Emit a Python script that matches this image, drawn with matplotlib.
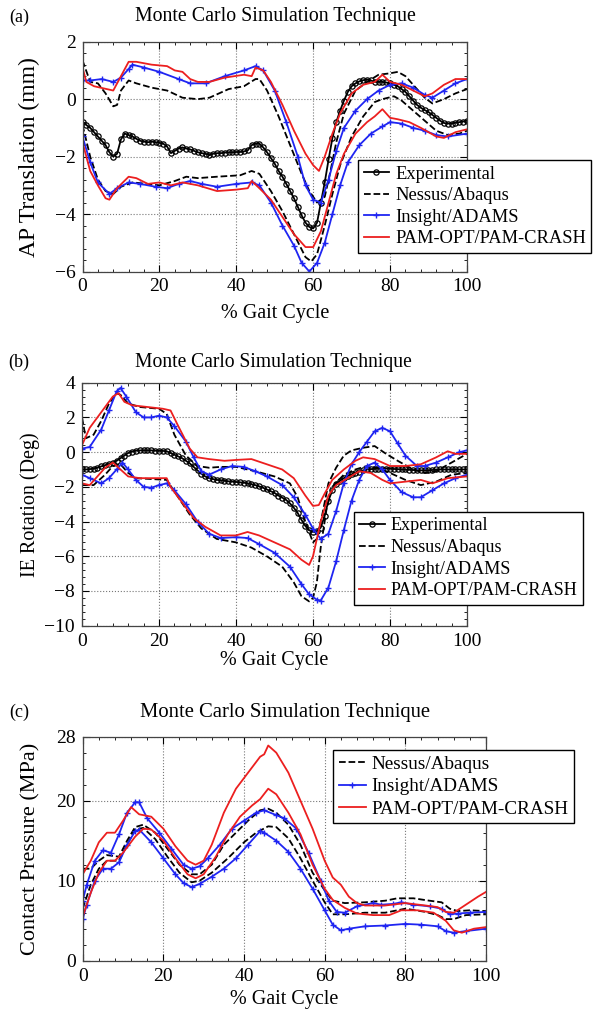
import numpy as np
import matplotlib.pyplot as plt
from matplotlib.ticker import AutoMinorLocator

plt.rcParams['font.family'] = ['Liberation Serif', 'DejaVu Serif']

# colours
c_exp = 'black'
c_nessus = 'black'
c_insight = '#1f25f2'
c_pam = '#ec1f1f'

names = ['Experimental', 'Nessus/Abaqus', 'Insight/ADAMS', 'PAM-OPT/PAM-CRASH']
title = 'Monte Carlo Simulation Technique'
xlabel = '% Gait Cycle'
gait = list(range(0, 101))   # experimental data is sampled every 1 % of the cycle

# ---------------- (a) AP translation ----------------
a_exp = [-0.78, -0.9, -1.0, -1.15, -1.3, -1.45, -1.6, -1.85, -2.0, -1.9,
         -1.4, -1.2, -1.25, -1.3, -1.38, -1.45, -1.48, -1.5, -1.48, -1.5,
         -1.52, -1.55, -1.65, -1.88, -1.8, -1.72, -1.68, -1.72, -1.75, -1.8,
         -1.85, -1.88, -1.9, -1.95, -1.9, -1.88, -1.88, -1.86, -1.85, -1.85,
         -1.84, -1.84, -1.82, -1.78, -1.6, -1.55, -1.55, -1.68, -1.85, -2.05,
         -2.25, -2.5, -2.7, -2.95, -3.2, -3.45, -3.75, -4.05, -4.3, -4.45,
         -4.5, -4.3, -3.6, -2.9, -2.1, -1.35, -0.8, -0.4, -0.05, 0.25,
         0.45, 0.55, 0.62, 0.66, 0.68, 0.65, 0.6, 0.6, 0.6, 0.58,
         0.55, 0.5, 0.45, 0.35, 0.25, 0.1, -0.05, -0.2, -0.3, -0.38,
         -0.45, -0.55, -0.65, -0.75, -0.83, -0.85, -0.85, -0.82, -0.8, -0.78,
         -0.75]

a_nes_up_x = [0, 2, 4, 6, 8, 9, 10, 12, 14, 18, 22, 26, 30, 33, 38, 42, 45, 46, 48, 51, 54, 57, 59,
              61, 63, 64.5, 66, 68, 71, 74, 77, 80, 82, 84, 86, 89, 91, 94, 97, 100]
a_nes_up = [1.35, 0.6, 0.55, 0.2, -0.25, -0.2, 0.3, 0.65, 0.55, 0.4, 0.3, 0.05, 0.0, 0.05, 0.35,
            0.45, 0.7, 0.7, 0.3, -0.6, -1.6, -2.6, -3.2, -3.6, -3.4, -2.5, -1.5, -0.5, 0.3, 0.6,
            0.85, 0.9, 0.95, 0.8, 0.5, 0.05, -0.15, 0.0, 0.2, 0.35]
a_nes_lo_x = [0, 2, 4, 6, 8, 10, 13, 17, 20, 24, 27, 30, 35, 41, 44, 46, 49, 52, 55, 58, 59.5, 61,
              63, 65, 67, 70, 73, 76, 78, 81, 83, 86, 89, 92, 95, 98, 100]
a_nes_lo = [-0.9, -2.0, -2.8, -3.2, -3.3, -3.05, -2.9, -2.95, -3.0, -2.85, -2.7, -2.75, -2.7, -2.65,
            -2.5, -2.6, -3.2, -3.9, -4.7, -5.5, -5.65, -5.4, -4.4, -3.3, -2.3, -1.3, -0.6, -0.1,
            0.0, 0.1, -0.05, -0.4, -0.75, -1.1, -1.25, -1.2, -1.1]

a_ins_up_x = [0, 2, 5, 8, 10, 12, 13, 16, 20, 25, 28, 32, 37, 42, 45, 47, 50, 53, 56, 58, 60, 62,
              64, 66, 68, 71, 74, 77, 80, 83, 86, 89, 91, 94, 97, 100]
a_ins_up = [0.65, 0.65, 0.7, 0.6, 0.75, 1.05, 1.2, 1.1, 0.95, 0.7, 0.55, 0.55, 0.8, 1.0, 1.15, 1.0,
            0.3, -0.8, -2.0, -3.0, -3.5, -3.6, -2.8, -1.8, -1.0, -0.4, 0.0, 0.3, 0.5, 0.55, 0.4,
            0.15, 0.05, 0.3, 0.55, 0.7]
a_ins_lo_x = [0, 2, 4, 7, 9, 12, 15, 19, 22, 25, 28, 31, 35, 40, 44, 46, 49, 52, 55, 57, 59, 61,
              63, 65, 67, 69, 72, 75, 78, 80, 83, 86, 89, 92, 95, 100]
a_ins_lo = [-1.3, -2.2, -2.9, -3.3, -3.1, -2.9, -2.95, -3.05, -3.1, -2.95, -2.85, -2.95, -3.05,
            -2.95, -2.9, -3.0, -3.6, -4.4, -5.1, -5.7, -6.0, -5.7, -5.0, -4.0, -3.0, -2.2, -1.6,
            -1.2, -0.95, -0.8, -0.85, -1.0, -1.1, -1.25, -1.3, -1.2]

a_pam_up_x = [0, 1, 3, 8, 10, 12, 14, 18, 22, 24, 26, 28, 30, 33, 37, 42, 44, 45, 47, 49, 52, 55,
              58, 60, 61.5, 63, 65, 67, 70, 73, 76, 78, 80, 83, 86, 89, 91, 94, 97, 100]
a_pam_up = [1.1, 0.6, 0.45, 0.3, 0.8, 1.3, 1.3, 1.2, 1.15, 1.0, 0.95, 0.7, 0.6, 0.6, 0.75, 0.85,
            0.8, 1.1, 1.0, 0.6, -0.2, -1.1, -1.9, -2.3, -2.5, -2.0, -1.2, -0.5, 0.2, 0.5, 0.6,
            0.85, 0.6, 0.5, 0.3, 0.1, 0.2, 0.5, 0.7, 0.7]
a_pam_lo_x = [0, 2, 4, 6, 7, 9, 12, 14, 17, 20, 23, 26, 30, 35, 40, 43, 44, 46, 49, 52, 55, 58, 60,
              62, 64, 66, 68, 71, 74, 76, 78, 80, 82, 85, 88, 92, 94, 97, 100]
a_pam_lo = [-1.5, -2.5, -3.0, -3.45, -3.5, -3.1, -2.7, -2.75, -2.95, -2.9, -3.0, -2.9, -3.0, -3.2,
            -3.15, -3.1, -2.85, -3.1, -3.5, -4.1, -4.7, -5.15, -5.15, -4.6, -3.6, -2.6, -1.9,
            -1.2, -0.8, -0.6, -0.35, -0.65, -0.7, -0.8, -1.0, -1.3, -1.35, -1.15, -1.05]

# ---------------- (b) IE rotation ----------------
b_exp = [-1.0, -1.0, -0.98, -0.95, -0.9, -0.82, -0.75, -0.68, -0.6, -0.5,
         -0.35, -0.2, -0.05, 0.03, 0.08, 0.1, 0.1, 0.1, 0.1, 0.08,
         0.07, 0.07, 0.05, -0.05, -0.15, -0.25, -0.35, -0.5, -0.65, -0.85,
         -1.05, -1.25, -1.4, -1.5, -1.55, -1.6, -1.62, -1.65, -1.68, -1.7,
         -1.72, -1.74, -1.76, -1.8, -1.85, -1.9, -1.97, -2.05, -2.15, -2.25,
         -2.35, -2.5, -2.62, -2.75, -2.95, -3.2, -3.5, -3.9, -4.25, -4.5,
         -4.6, -4.55, -4.35, -3.7, -2.8, -2.2, -1.85, -1.65, -1.5, -1.38,
         -1.28, -1.2, -1.12, -1.05, -1.0, -0.98, -0.96, -0.95, -0.95, -0.95,
         -0.95, -0.97, -0.98, -1.0, -1.0, -1.02, -1.03, -1.05, -1.05, -1.05,
         -1.05, -1.03, -1.0, -1.0, -1.0, -1.0, -1.0, -1.0, -1.0, -1.0,
         -1.0]

b_nes_up_x = [0, 1, 3, 5, 7, 9, 10, 12, 15, 20, 22, 24, 27, 30, 33, 36, 40, 45, 50, 54, 56, 58, 60,
              61, 62.5, 64, 66, 68, 70, 73, 76, 79, 82, 86, 89, 92, 96, 100]
b_nes_up = [2.0, 0.8, 1.0, 1.8, 2.8, 3.4, 3.3, 2.8, 2.6, 2.5, 2.2, 1.0, -0.2, -0.8, -0.9, -0.85,
            -0.85, -1.1, -1.4, -1.8, -2.6, -4.0, -5.2, -5.0, -3.5, -1.8, -0.9, -0.2, 0.1, 0.25,
            0.35, -0.1, -0.5, -1.0, -1.2, -1.1, -0.6, -0.1]
b_nes_lo_x = [0, 3, 6, 8, 10, 12, 14, 18, 22, 25, 28, 31, 35, 40, 44, 48, 52, 55, 57, 59, 60, 61,
              62, 63.5, 65, 68, 71, 74, 77, 80, 84, 88, 92, 96, 100]
b_nes_lo = [-1.9, -1.9, -1.3, -0.8, -0.7, -1.2, -1.5, -1.55, -1.6, -2.6, -3.6, -4.4, -5.0, -5.2,
            -5.5, -6.0, -6.6, -7.5, -8.3, -8.6, -8.4, -7.5, -5.5, -3.3, -2.0, -1.3, -1.0, -0.8,
            -0.9, -1.2, -1.6, -1.9, -1.7, -1.3, -1.2]

b_ins_up_x = [0, 2, 5, 7, 9, 10, 11.5, 14, 16, 18, 20, 22, 24, 27, 29, 31, 33, 36, 39, 42, 45, 48,
              52, 55, 58, 60, 62, 64, 66, 68, 70, 72, 74, 76, 78, 80, 82, 84, 87, 89, 92, 95, 98,
              100]
b_ins_up = [0.2, 0.3, 1.3, 2.4, 3.5, 3.7, 3.2, 2.3, 2.0, 2.0, 2.1, 2.0, 1.5, 0.6, -0.3, -1.1,
            -1.3, -1.0, -0.8, -0.85, -1.1, -1.4, -1.9, -2.6, -3.6, -4.4, -5.0, -4.7, -3.4, -1.8,
            -0.7, 0.0, 0.6, 1.2, 1.4, 1.2, 0.5, -0.2, -0.8, -0.8, -0.6, -0.3, 0.0, 0.1]
b_ins_lo_x = [0, 2, 5, 7, 9, 10.5, 12, 14, 16, 18, 20, 22, 24, 27, 30, 33, 36, 40, 43, 46, 50, 54,
              57, 59, 61, 62, 64, 66, 68, 70, 72, 74, 76, 78, 80, 83, 86, 88, 91, 94, 97, 100]
b_ins_lo = [-1.3, -1.5, -1.8, -1.5, -1.0, -0.6, -1.0, -1.6, -2.0, -2.05, -1.9, -1.8, -2.2, -3.0,
            -4.0, -4.7, -4.95, -4.9, -4.95, -5.3, -5.8, -6.6, -7.6, -8.2, -8.5, -8.55, -7.8,
            -6.3, -4.5, -2.8, -1.6, -0.8, -0.6, -1.0, -1.6, -2.3, -2.6, -2.6, -2.2, -1.8, -1.5,
            -1.3]

b_pam_up_x = [0, 2, 5, 8, 9.5, 11, 13, 17, 21, 23, 25, 28, 30, 33, 37, 40, 44, 48, 52, 55, 58, 60,
              61.5, 63, 65, 68, 71, 73, 76, 80, 84, 88, 92, 95, 97, 100]
b_pam_up = [0.4, 1.4, 2.3, 3.2, 3.4, 2.9, 2.7, 2.6, 2.5, 2.4, 1.5, 0.2, -0.3, -0.4, -0.5, -0.45,
            -0.4, -0.7, -1.0, -1.5, -2.5, -3.1, -3.05, -2.4, -1.6, -1.0, -0.5, -0.3, -0.4, -0.8,
            -0.8, -0.7, -0.3, 0.05, -0.1, -0.1]
b_pam_lo_x = [0, 2, 4, 6, 8, 10, 12, 15, 20, 22, 23, 26, 29, 32, 36, 40, 43, 46, 50, 54, 57, 59,
              60, 62, 64, 66, 69, 72, 75, 78, 80, 84, 88, 91, 95, 100]
b_pam_lo = [-1.8, -1.9, -1.4, -0.9, -0.6, -1.0, -1.4, -1.5, -1.5, -1.5, -2.0, -2.9, -3.8, -4.3,
            -4.8, -4.8, -4.6, -4.8, -5.2, -5.6, -6.2, -6.5, -6.0, -4.0, -2.5, -1.9, -1.5, -1.1,
            -1.2, -1.6, -1.8, -1.7, -1.6, -1.8, -1.5, -1.4]

# ---------------- (c) contact pressure ----------------
c_nes_up_x = [0, 2, 4, 6, 9, 11, 13, 15, 18, 21, 24, 27, 29, 32, 35, 38, 41, 44, 46, 48, 51, 54,
              57, 60, 62, 65, 70, 75, 78, 82, 86, 89, 91, 93, 96, 100]
c_nes_up = [11.5, 11.5, 12.5, 13.2, 13.0, 15.0, 16.7, 17.0, 16.0, 14.0, 12.0, 10.8, 10.8, 12.0,
            14.5, 16.0, 17.5, 18.8, 19.0, 18.5, 17.0, 14.5, 11.0, 8.8, 7.5, 7.2, 7.3, 7.5, 7.8,
            7.8, 7.5, 7.3, 6.5, 6.2, 6.3, 6.2]
c_nes_lo_x = [0, 2, 4, 6, 9, 11, 13, 15, 18, 21, 24, 27, 29, 32, 36, 40, 43, 46, 48, 51, 54, 57,
              60, 62, 65, 70, 75, 80, 85, 88, 90, 92, 95, 100]
c_nes_lo = [6.5, 9.5, 11.5, 12.5, 12.5, 14.5, 16.4, 16.6, 15.2, 13.0, 11.0, 9.8, 10.0, 11.0,
            12.8, 14.8, 16.0, 16.8, 16.7, 15.3, 12.8, 10.0, 7.3, 5.8, 5.8, 6.0, 6.0, 6.5, 6.1,
            5.7, 5.2, 5.2, 5.7, 5.8]

c_ins_up_x = [0, 1, 3, 5, 7, 9, 11, 13, 14, 16, 19, 22, 25, 27, 29, 31, 34, 37, 40, 43, 45, 48,
              50, 53, 56, 59, 61, 63, 65, 68, 72, 74, 77, 79, 82, 86, 89, 91, 93, 96, 100]
c_ins_up = [7.5, 9.5, 12.5, 13.8, 13.5, 15.8, 18.5, 19.8, 19.8, 17.8, 16.0, 14.0, 12.0, 11.5,
            11.8, 12.8, 14.5, 16.5, 17.5, 18.5, 18.8, 18.2, 17.8, 16.5, 13.5, 10.0, 7.5, 6.1,
            6.0, 6.8, 7.2, 7.0, 7.1, 7.3, 7.0, 6.8, 6.5, 5.8, 5.9, 6.0, 6.1]
c_ins_lo_x = [0, 1, 3, 5, 7, 9, 11, 13, 14, 17, 20, 23, 25, 27, 29, 32, 35, 38, 41, 44, 45, 48,
              51, 54, 57, 60, 62, 64, 66, 70, 75, 80, 84, 88, 90, 92, 95, 100]
c_ins_lo = [5.2, 7.0, 10.0, 11.5, 11.5, 12.3, 14.5, 16.2, 16.4, 14.8, 12.8, 10.8, 9.7, 9.2, 9.6,
            10.5, 11.5, 12.8, 14.5, 16.2, 16.0, 15.0, 13.6, 11.5, 9.0, 6.3, 4.5, 3.8, 4.0, 4.3,
            4.4, 4.6, 4.5, 4.3, 3.7, 3.5, 3.7, 4.0]

c_pam_up_x = [0, 2, 4, 6, 8, 10, 12, 14, 17, 20, 23, 26, 28, 30, 32, 35, 38, 41, 44, 45, 46, 48,
              51, 54, 57, 60, 62, 64, 66, 68, 70, 75, 80, 85, 88, 90, 92, 95, 98, 100]
c_pam_up = [10.8, 12.5, 14.8, 16.0, 16.0, 17.5, 19.2, 18.3, 18.0, 16.5, 14.3, 12.5, 12.0, 12.5,
            14.5, 18.5, 21.5, 23.5, 25.5, 25.8, 26.9, 26.0, 23.5, 20.0, 16.5, 12.5, 10.4, 9.5,
            8.0, 7.2, 6.9, 6.9, 7.2, 6.9, 6.7, 6.1, 6.0, 7.0, 8.0, 8.6]
c_pam_lo_x = [0, 2, 4, 6, 8, 10, 13, 15, 17, 20, 23, 26, 28, 30, 33, 36, 39, 42, 44, 46, 48, 51,
              54, 57, 60, 62, 65, 68, 72, 76, 79, 83, 87, 90, 92, 94, 97, 100]
c_pam_lo = [5.5, 8.5, 11.0, 12.5, 12.5, 13.5, 15.5, 16.5, 16.4, 15.0, 12.8, 10.8, 10.3, 10.8,
            13.0, 15.8, 18.0, 19.4, 20.2, 21.5, 20.8, 18.5, 15.8, 12.0, 9.0, 7.6, 6.6, 5.9, 5.7,
            5.7, 6.3, 6.3, 6.0, 5.0, 3.8, 3.5, 4.0, 4.2]

W, H = 613, 1013
fig = plt.figure(figsize=(W / 100, H / 100), dpi=100)


def px_axes(l, t, r, b):
    # axes placed by pixel edges measured on the reference
    return fig.add_axes([l / W, 1 - b / H, (r - l) / W, (b - t) / H])


def style_axes(ax, xminor, yminor):
    ax.set_xlim(0, 100)
    ax.set_xticks([0, 20, 40, 60, 80, 100])
    ax.xaxis.set_minor_locator(AutoMinorLocator(xminor))
    ax.yaxis.set_minor_locator(AutoMinorLocator(yminor))
    ax.grid(True, which='major', linestyle=':', color='#777777', linewidth=0.8)
    ax.tick_params(which='both', direction='in', top=True, right=True, labelsize=14, pad=5)
    ax.tick_params(which='major', length=5)
    ax.tick_params(which='minor', length=2.5)
    for s in ax.spines.values():
        s.set_color('#444444')
        s.set_linewidth(0.9)


def draw_exp(ax, y):
    ax.plot(gait, y, color=c_exp, linewidth=1.3, marker='o', markersize=3.8,
            markerfacecolor='none', markeredgewidth=0.9, label=names[0])


def draw_band(ax, xu, yu, xl, yl, color, ls='-', marker=None, label=None):
    kw = dict(color=color, linestyle=ls, linewidth=1.3)
    if marker:
        kw.update(marker=marker, markersize=4.5, markeredgewidth=1.0)
    line, = ax.plot(xu, yu, label=label, **kw)
    ax.plot(xl, yl, **kw)
    return line


def add_legend(ax, left_px, top_px, size):
    leg = ax.legend(loc='upper left', bbox_to_anchor=(left_px / W, 1 - top_px / H),
                    bbox_transform=fig.transFigure, fontsize=size, frameon=True,
                    fancybox=False, edgecolor='black', framealpha=1, borderaxespad=0,
                    handlelength=1.4, handletextpad=0.3, labelspacing=0.25, borderpad=0.3)
    leg.get_frame().set_linewidth(1.0)
    return leg


def titles(tag, y_px, cx_px, size):
    fig.text(19 / W, 1 - y_px / H, tag, ha='center', va='center', fontsize=13)
    fig.text(cx_px / W, 1 - y_px / H, title, ha='center', va='center', fontsize=size)


# (a)
ax1 = px_axes(82.5, 41.7, 467, 271.5)
style_axes(ax1, 5, 5)
draw_exp(ax1, a_exp)
draw_band(ax1, a_nes_up_x, a_nes_up, a_nes_lo_x, a_nes_lo, c_nessus, ls='--', label=names[1])
draw_band(ax1, a_ins_up_x, a_ins_up, a_ins_lo_x, a_ins_lo, c_insight, marker='+', label=names[2])
draw_band(ax1, a_pam_up_x, a_pam_up, a_pam_lo_x, a_pam_lo, c_pam, label=names[3])
ax1.set_ylim(-6, 2)
ax1.set_yticks([-6, -4, -2, 0, 2])
ax1.set_ylabel('AP Translation (mm)', fontsize=17)
ax1.yaxis.set_label_coords(-0.11, 0.5)
ax1.set_xlabel(xlabel, fontsize=14.5)
ax1.xaxis.set_label_coords(0.5, -0.14)
add_legend(ax1, 358, 160, 13.3)
titles('(a)', 17, 275, 14.3)

# (b)
ax2 = px_axes(82, 382.7, 467, 625.7)
style_axes(ax2, 5, 5)
draw_exp(ax2, b_exp)
draw_band(ax2, b_nes_up_x, b_nes_up, b_nes_lo_x, b_nes_lo, c_nessus, ls='--', label=names[1])
draw_band(ax2, b_ins_up_x, b_ins_up, b_ins_lo_x, b_ins_lo, c_insight, marker='+', label=names[2])
draw_band(ax2, b_pam_up_x, b_pam_up, b_pam_lo_x, b_pam_lo, c_pam, label=names[3])
ax2.set_ylim(-10, 4)
ax2.set_yticks([-10, -8, -6, -4, -2, 0, 2, 4])
ax2.set_ylabel('IE Rotation (Deg)', fontsize=14.5)
ax2.yaxis.set_label_coords(-0.11, 0.5)
ax2.set_xlabel(xlabel, fontsize=14.5)
ax2.xaxis.set_label_coords(0.5, -0.104)
add_legend(ax2, 354, 512, 13.1)
titles('(b)', 362, 273, 14.1)

# (c)
ax3 = px_axes(82.7, 736.7, 486, 960.7)
style_axes(ax3, 5, 5)
draw_band(ax3, c_nes_up_x, c_nes_up, c_nes_lo_x, c_nes_lo, c_nessus, ls='--', label=names[1])
draw_band(ax3, c_ins_up_x, c_ins_up, c_ins_lo_x, c_ins_lo, c_insight, marker='+', label=names[2])
draw_band(ax3, c_pam_up_x, c_pam_up, c_pam_lo_x, c_pam_lo, c_pam, label=names[3])
ax3.set_ylim(0, 28)
ax3.set_yticks([0, 10, 20, 28])
ax3.set_ylabel('Contact Pressure (MPa)', fontsize=16)
ax3.yaxis.set_label_coords(-0.105, 0.5)
ax3.set_xlabel(xlabel, fontsize=14.5)
ax3.xaxis.set_label_coords(0.5, -0.131)
add_legend(ax3, 333, 750, 13.8)
titles('(c)', 712, 285, 14.9)

fig.savefig('out.png', dpi=100)
